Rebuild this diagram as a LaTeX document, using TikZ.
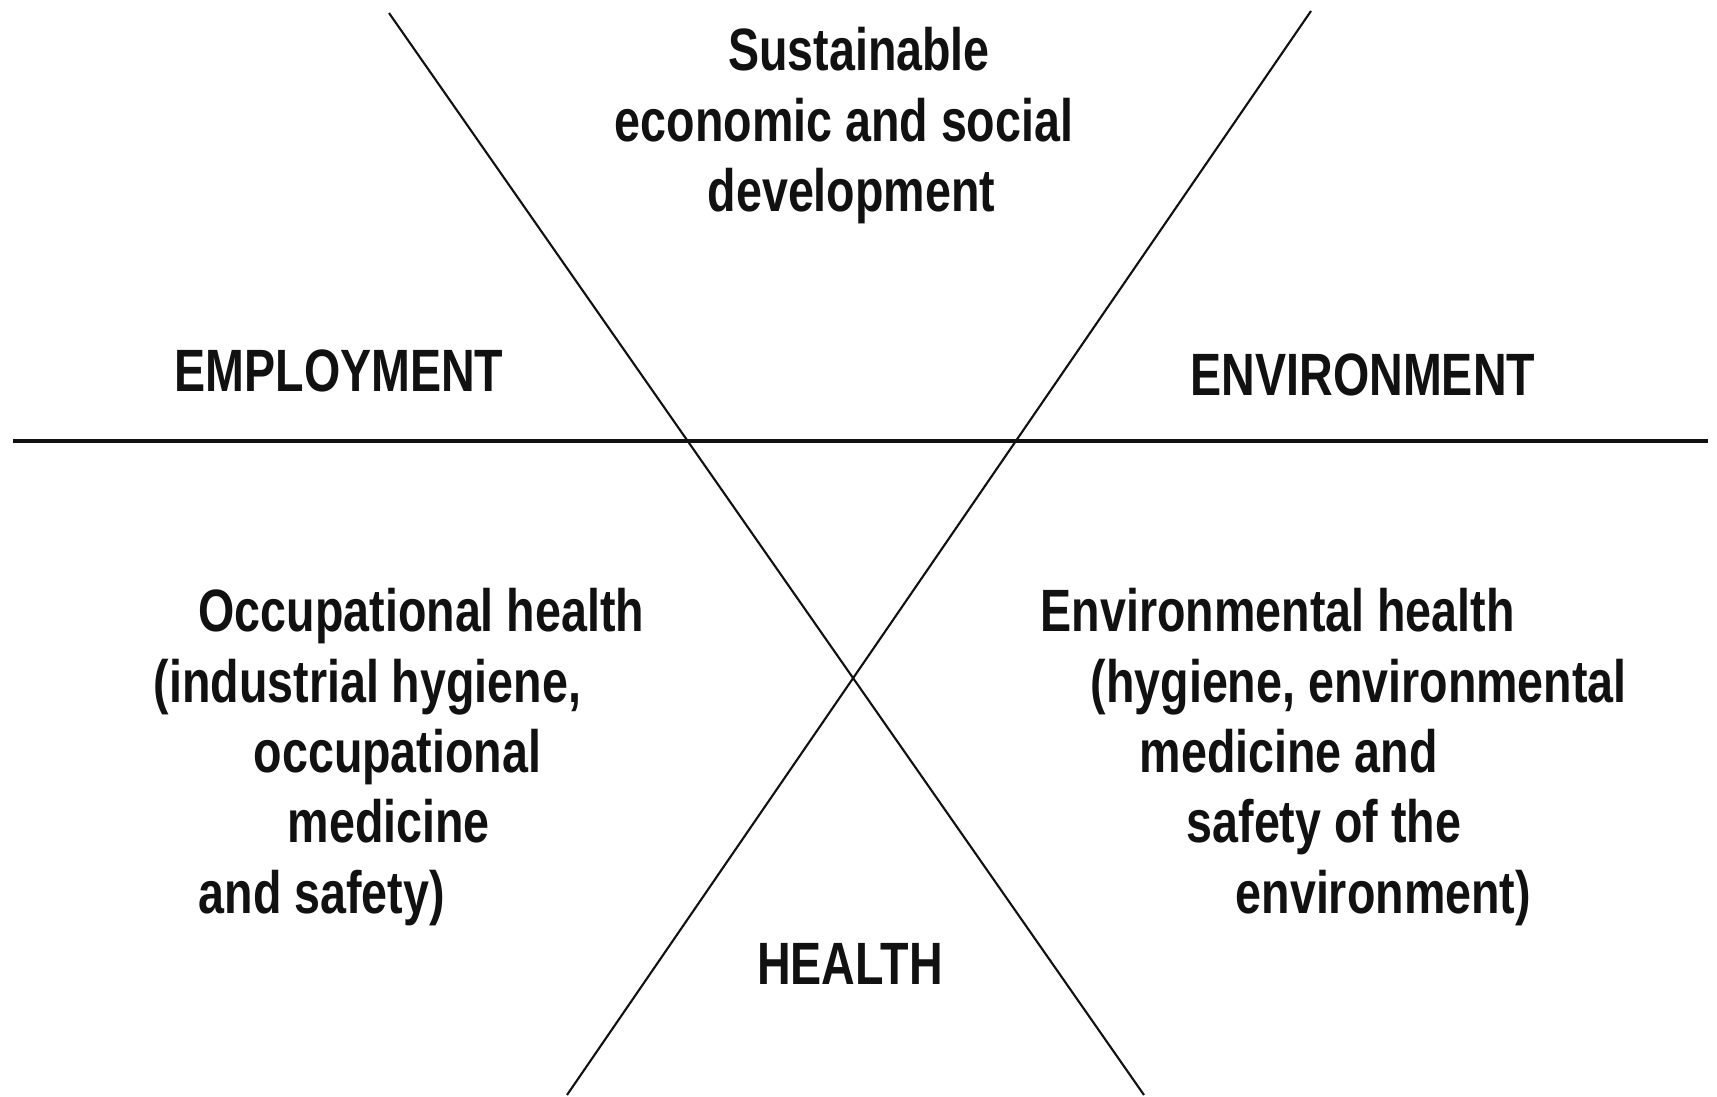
\documentclass[tikz,border=0pt]{standalone}
\usepackage{fontspec}
\setmainfont{Liberation Sans}[FakeStretch=0.78]
\definecolor{Ink}{HTML}{111111}
\begin{document}
\begin{tikzpicture}[every node/.style={inner sep=0pt,text=Ink,font=\fontsize{17}{20}\selectfont\bfseries},
  axisline/.style={draw=Ink,line width=0.9pt},crossline/.style={draw=Ink,line width=0.6pt},
  headlabel/.style={anchor=base},blocktext/.style={anchor=north west,align=left}]
\useasboundingbox (0,0) rectangle (17.17,10.97);
\draw[axisline] (0.13,6.56)--(17.08,6.56);
\draw[crossline] (3.89,10.84)--(11.44,0.02);\draw[crossline] (13.11,10.86)--(5.67,0.02);
\node[anchor=north,align=center] (devel) at (8.44,10.70){\hspace*{0.3cm}Sustainable\\economic and social\\\hspace*{0.15cm}development};
\node[headlabel] (employ) at (3.39,7.05){EMPLOYMENT};
\node[headlabel] (enviro) at (13.63,7.01){ENVIRONMENT};
\node[headlabel] (health) at (8.50,1.12){HEALTH};
\node[blocktext] (occhealth) at (1.53,5.09){\hspace*{0.45cm}Occupational health\\(industrial hygiene,\\\hspace*{1.0cm}occupational\\\hspace*{1.34cm}medicine\\\hspace*{0.45cm}and safety)};
\node[blocktext] (envhealth) at (10.40,5.09){Environmental health\\\hspace*{0.50cm}(hygiene, environmental\\\hspace*{0.99cm}medicine and\\\hspace*{1.46cm}safety of the\\\hspace*{1.95cm}environment)};
\end{tikzpicture}
\end{document}
